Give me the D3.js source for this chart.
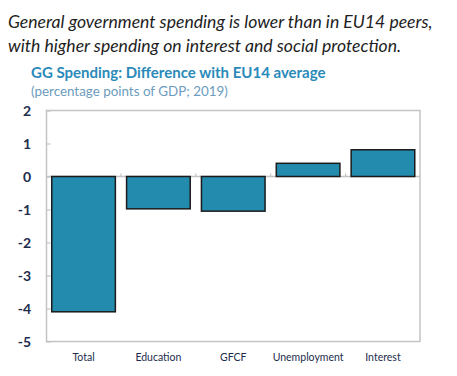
<!DOCTYPE html>
<html>
<head>
<meta charset="utf-8">
<script src="https://cdn.jsdelivr.net/npm/d3@7"></script>
<style>
body { margin: 0; background: #fff; }
text { font-family: Lato, "Open Sans", sans-serif; }
</style>
</head>
<body>
<script>
// data
var categories = ["Total", "Education", "GFCF", "Unemployment", "Interest"]
var values = [-4.1, -0.98, -1.05, 0.4, 0.81]
var yTicks = [2, 1, 0, -1, -2, -3, -4, -5]

var titleLines = ["General government spending is lower than in EU14 peers,",
                  "with higher spending on interest and social protection."]

var W = 457, H = 376
var plot = {left: 46.5, right: 420, top: 110.5, bottom: 341.5}

var svg = d3.select("body").append("svg")
            .attr("width", W)
            .attr("height", H)

svg.selectAll("text.title")
   .data(titleLines)
   .enter()
   .append("text")
   .attr("class", "title")
   .attr("x", 8)
   .attr("y", function(d, i) {return 28 + i*24})
   .text(function(d) {return d})
   .attr("font-size", 17.6)
   .attr("font-style", "italic")
   .attr("fill", "#1e1e1e")

svg.append("text")
   .attr("x", 31)
   .attr("y", 78)
   .text("GG Spending: Difference with EU14 average")
   .attr("font-size", 15)
   .attr("font-weight", "bold")
   .attr("fill", "#2a8ab9")

svg.append("text")
   .attr("x", 31)
   .attr("y", 96)
   .text("(percentage points of GDP; 2019)")
   .attr("font-size", 13.4)
   .attr("fill", "#6c9cbd")

var x = d3.scaleBand()
          .domain(categories)
          .range([plot.left, plot.right])
          .paddingInner(0.15)
          .paddingOuter(0.07)

var y = d3.scaleLinear()
          .domain([-5, 2])
          .range([plot.bottom, plot.top])

// frame
svg.append("rect")
   .attr("x", plot.left)
   .attr("y", plot.top)
   .attr("width", plot.right - plot.left)
   .attr("height", plot.bottom - plot.top)
   .attr("fill", "none")
   .attr("stroke", "#c4c4c4")
   .attr("stroke-width", 1.5)

// y ticks (inside) + labels
var yAxis = svg.append("g")
   .attr("transform", "translate(" + plot.left + ",0)")
   .call(d3.axisRight(y).tickValues(yTicks).tickSize(4).tickFormat(""))
yAxis.select(".domain").remove()
yAxis.selectAll("line").attr("stroke", "#c4c4c4").attr("stroke-width", 1.2)

svg.selectAll("text.ylab")
   .data(yTicks)
   .enter()
   .append("text")
   .attr("class", "ylab")
   .attr("x", 31)
   .attr("y", function(d) {return y(d) + 5})
   .attr("text-anchor", "end")
   .text(function(d) {return d})
   .attr("font-size", 14)
   .attr("font-weight", "bold")
   .attr("fill", "#1d2d4d")

// zero line with small ticks between categories
svg.append("line")
   .attr("x1", plot.left)
   .attr("x2", plot.right)
   .attr("y1", y(0))
   .attr("y2", y(0))
   .attr("stroke", "#c4c4c4")
   .attr("stroke-width", 1.5)

svg.selectAll("line.sep")
   .data(categories.slice(1))
   .enter()
   .append("line")
   .attr("class", "sep")
   .attr("x1", function(d) {return x(d) - x.step()*x.paddingInner()/2})
   .attr("x2", function(d) {return x(d) - x.step()*x.paddingInner()/2})
   .attr("y1", y(0))
   .attr("y2", y(0) - 3)
   .attr("stroke", "#c4c4c4")
   .attr("stroke-width", 1.2)

svg.selectAll("rect.bar")
   .data(values)
   .enter()
   .append("rect")
   .attr("class", "bar")
   .attr("x", function(d, i) {return x(categories[i])})
   .attr("y", function(d) {return y(Math.max(0, d))})
   .attr("width", x.bandwidth())
   .attr("height", function(d) {return Math.abs(y(d) - y(0))})
   .attr("fill", "#238bae")
   .attr("stroke", "#1b1b1b")
   .attr("stroke-width", 1.5)

svg.selectAll("text.xlab")
   .data(categories)
   .enter()
   .append("text")
   .attr("class", "xlab")
   .attr("x", function(d) {return x(d) + x.bandwidth()/2})
   .attr("y", 361)
   .attr("text-anchor", "middle")
   .text(function(d) {return d})
   .attr("font-size", 10.5)
   .attr("fill", "#1d2d4d")
</script>
</body>
</html>
